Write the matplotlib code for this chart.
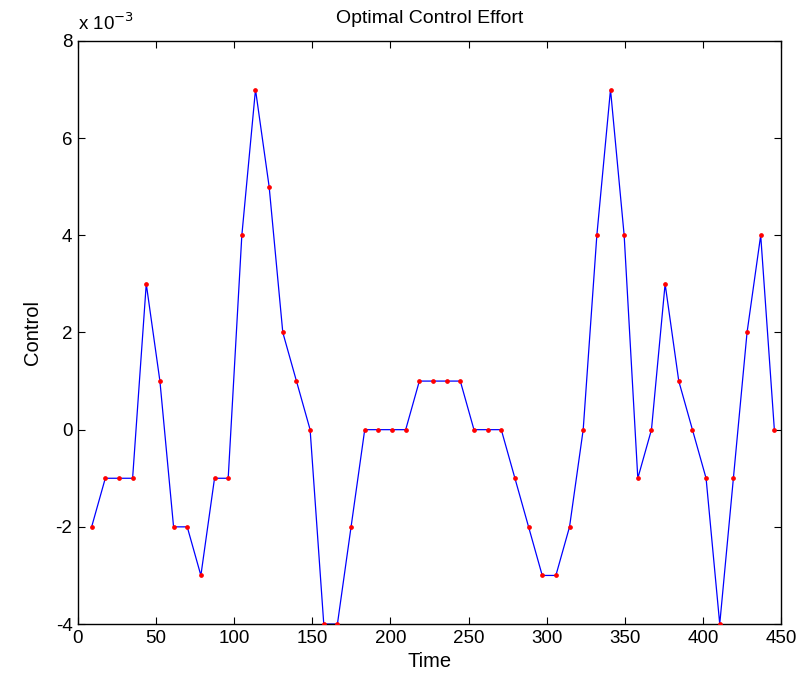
import matplotlib
matplotlib.use('Agg')
import matplotlib.pyplot as plt
from matplotlib.ticker import FuncFormatter

# time samples and control effort (units of 1e-3)
time = [8.74, 17.48, 26.22, 34.96, 43.70, 52.44, 61.18, 69.92, 78.66, 87.40,
        96.14, 104.88, 113.62, 122.36, 131.10, 139.84, 148.58, 157.32, 166.06, 174.80,
        183.54, 192.28, 201.02, 209.76, 218.50, 227.24, 235.98, 244.72, 253.46, 262.20,
        270.94, 279.68, 288.42, 297.16, 305.90, 314.64, 323.38, 332.12, 340.86, 349.60,
        358.34, 367.08, 375.82, 384.56, 393.30, 402.04, 410.78, 419.52, 428.26, 437.00,
        445.74]
control_milli = [-2, -1, -1, -1, 3, 1, -2, -2, -3, -1,
                 -1, 4, 7, 5, 2, 1, 0, -4, -4, -2,
                 0, 0, 0, 0, 1, 1, 1, 1, 0, 0,
                 0, -1, -2, -3, -3, -2, 0, 4, 7, 4,
                 -1, 0, 3, 1, 0, -1, -4, -1, 2, 4,
                 0]
control = [v * 1e-3 for v in control_milli]

xticks = [0, 50, 100, 150, 200, 250, 300, 350, 400, 450]
yticks = [-4e-3, -2e-3, 0, 2e-3, 4e-3, 6e-3, 8e-3]

plt.rcParams['font.family'] = ['Liberation Sans', 'DejaVu Sans']

fig = plt.figure(figsize=(8.09, 6.78), dpi=100)
ax = fig.add_axes([0.0964, 0.0796, 0.869, 0.86])

ax.plot(time, control, color='#0000ff', linewidth=0.9, zorder=2)
ax.plot(time, control, linestyle='none', marker='o', markersize=2.4,
        markerfacecolor='#ff0000', markeredgecolor='#ff0000', zorder=3)

ax.set_xlim(0, 450)
ax.set_ylim(-4e-3, 8e-3)
ax.set_xticks(xticks)
ax.set_yticks(yticks)
ax.yaxis.set_major_formatter(FuncFormatter(lambda v, p: f'{v * 1e3:.0f}'))

ax.tick_params(direction='in', length=5, width=0.8, top=True, right=True,
               labelsize=13.5, pad=4)
for s in ax.spines.values():
    s.set_linewidth(1.0)

ax.set_title('Optimal Control Effort', fontsize=14, pad=13)
ax.set_xlabel('Time', fontsize=14.5, labelpad=4)
ax.set_ylabel('Control', fontsize=14.5, labelpad=10)

ax.text(0.0, 1.012, r'x 10$^{-3}$', transform=ax.transAxes, fontsize=13.5,
        ha='left', va='bottom')

plt.savefig('out.png', dpi=100)
